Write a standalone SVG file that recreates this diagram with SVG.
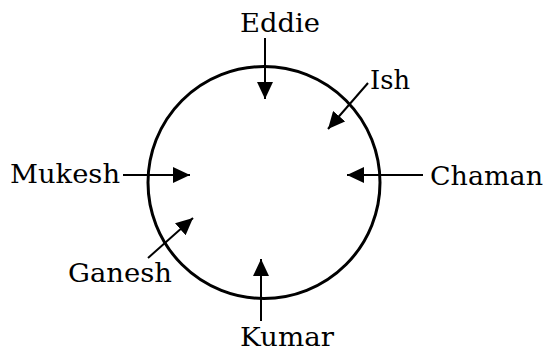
<svg xmlns="http://www.w3.org/2000/svg" width="546" height="351" viewBox="0 0 546 351">
<style>
.lbl{font-family:"DejaVu Serif","Liberation Serif",serif;font-size:26px;fill:#000}
.cn{stroke:#000;stroke-width:2;fill:none;marker-end:url(#ah)}
</style>
<defs>
<marker id="ah" markerUnits="userSpaceOnUse" markerWidth="18" markerHeight="16" refX="17" refY="8" orient="auto">
<path d="M0,0 L17,8 L0,16 z" fill="#000"/>
</marker>
</defs>
<rect width="546" height="351" fill="#fff"/>
<g id="table"><circle cx="264" cy="182.5" r="116" fill="none" stroke="#000" stroke-width="3"/></g>
<g id="connectors">
<line class="cn" x1="265" y1="38" x2="265" y2="99"/>
<line class="cn" x1="368" y1="83" x2="328" y2="129"/>
<line class="cn" x1="123" y1="175" x2="190" y2="175"/>
<line class="cn" x1="423" y1="175" x2="347" y2="175"/>
<line class="cn" x1="148" y1="258" x2="193" y2="218"/>
<line class="cn" x1="261" y1="321" x2="261" y2="259"/>
</g>
<g id="eddie"><text class="lbl" x="240" y="32" textLength="80" lengthAdjust="spacingAndGlyphs">Eddie</text></g>
<g id="ish"><text class="lbl" x="370" y="89" textLength="40" lengthAdjust="spacingAndGlyphs">Ish</text></g>
<g id="mukesh"><text class="lbl" x="10" y="183" textLength="110" lengthAdjust="spacingAndGlyphs">Mukesh</text></g>
<g id="chaman"><text class="lbl" x="430" y="185" textLength="113" lengthAdjust="spacingAndGlyphs">Chaman</text></g>
<g id="ganesh"><text class="lbl" x="68" y="282" textLength="104" lengthAdjust="spacingAndGlyphs">Ganesh</text></g>
<g id="kumar"><text class="lbl" x="240" y="346" textLength="94" lengthAdjust="spacingAndGlyphs">Kumar</text></g>
</svg>
